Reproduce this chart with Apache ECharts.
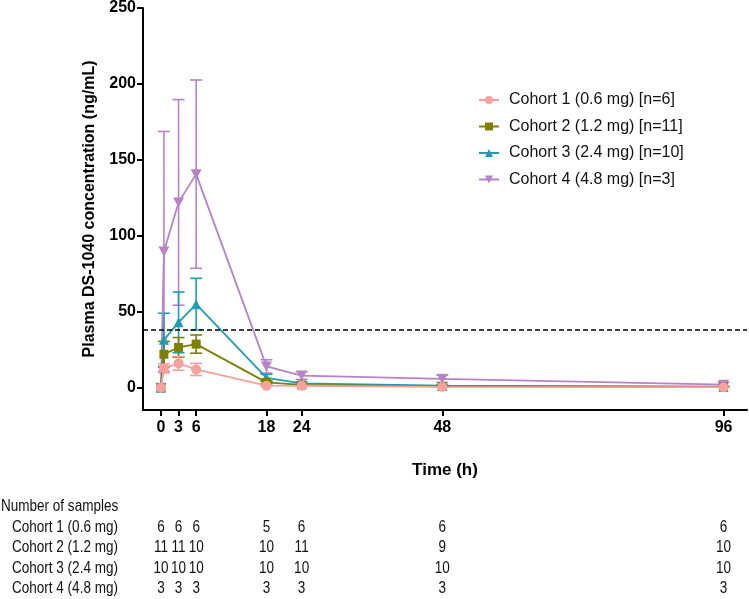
<!DOCTYPE html>
<html>
<head>
<meta charset="utf-8">
<title>Plasma DS-1040 concentration</title>
<script src="https://cdn.jsdelivr.net/npm/echarts@6/dist/echarts.min.js"></script>
<style>
html, body { margin: 0; padding: 0; background: #fff; }
#chart { width: 749px; height: 599px; }
</style>
</head>
<body>
<div id="chart"></div>
<script>
// sampling times (h)
var times = [0, 0.5, 3, 6, 18, 24, 48, 96];

var cohortNames = [
	'Cohort 1 (0.6 mg) [n=6]',
	'Cohort 2 (1.2 mg) [n=11]',
	'Cohort 3 (2.4 mg) [n=10]',
	'Cohort 4 (4.8 mg) [n=3]'
];

// mean and SD
var mean1 = [0, 12.7, 16, 12, 1.3, 1.2, 0.5, 0.3];
var sd1   = [0, 3, 4.5, 4, 0.5, 0.4, 0.2, 0.1];
var mean2 = [0, 22, 26.5, 28.7, 3.5, 1.8, 0.8, 0.5];
var sd2   = [0, 8.5, 6.5, 6, 1, 0.6, 0.3, 0.2];
var mean3 = [0, 31.5, 43, 55, 6.5, 2.8, 1.3, 0.6];
var sd3   = [0, 17.5, 20, 17, 2.3, 1, 0.5, 0.3];
var mean4 = [0, 89.7, 122, 140.6, 14, 8, 5.8, 2];
var sd4   = [0, 79, 67.7, 62, 4.4, 2.5, 2.4, 1.5];

var xTicks = [0, 3, 6, 18, 24, 48, 96];
var yTicks = [0, 50, 100, 150, 200, 250];
var refLevel = 38;

// number of samples table
var tableTitle = 'Number of samples';
var tableRows = ['Cohort 1 (0.6 mg)', 'Cohort 2 (1.2 mg)', 'Cohort 3 (2.4 mg)', 'Cohort 4 (4.8 mg)'];
var tableTimes = [0, 3, 6, 18, 24, 48, 96];
var nCohort1 = [6, 6, 6, 5, 6, 6, 6];
var nCohort2 = [11, 11, 10, 10, 11, 9, 10];
var nCohort3 = [10, 10, 10, 10, 10, 10, 10];
var nCohort4 = [3, 3, 3, 3, 3, 3, 3];

var colors = ['#F6A19D', '#7F7F00', '#1E9DB5', '#B683C8'];
var symbols = ['circle', 'rect', 'triangle', 'path://M0,0 L10,0 L5,9 Z'];
var FONT = '"Liberation Sans", Arial, Helvetica, sans-serif';
var NARROW_SCALE = 0.845; // table text is set in a condensed face

var means = [mean1, mean2, mean3, mean4];
var sds = [sd1, sd2, sd3, sd4];
var counts = [nCohort1, nCohort2, nCohort3, nCohort4];

function errorBars(color) {
	return function (params, api) {
		var x = api.value(0);
		var top = api.coord([x, api.value(2)]);
		var bot = api.coord([x, api.value(1)]);
		var hw = 6;
		var st = { stroke: color, lineWidth: 1.6 };
		return {
			type: 'group',
			children: [
				{ type: 'line', shape: { x1: top[0], y1: top[1], x2: bot[0], y2: bot[1] }, style: st },
				{ type: 'line', shape: { x1: top[0] - hw, y1: top[1], x2: top[0] + hw, y2: top[1] }, style: st },
				{ type: 'line', shape: { x1: bot[0] - hw, y1: bot[1], x2: bot[0] + hw, y2: bot[1] }, style: st }
			]
		};
	};
}

function tableText(txt, x, y, align) {
	return {
		type: 'text',
		x: x,
		y: y,
		scaleX: NARROW_SCALE,
		style: {
			text: txt,
			align: align,
			verticalAlign: 'middle',
			fontFamily: FONT,
			fontSize: 16,
			fill: '#111'
		}
	};
}

var series = [];
// draw cohort 4 first so cohort 1 ends up on top
for (var i = 3; i >= 0; i--) {
	var lineData = [];
	var errData = [];
	for (var j = 0; j < times.length; j++) {
		lineData.push([times[j], means[i][j]]);
		if (sds[i][j] > 0) {
			errData.push([times[j], means[i][j] - sds[i][j], means[i][j] + sds[i][j]]);
		}
	}
	series.push({
		name: 'err' + i,
		type: 'custom',
		xAxisIndex: 0,
		yAxisIndex: 0,
		renderItem: errorBars(colors[i]),
		encode: { x: 0, y: [1, 2] },
		data: errData,
		z: 2,
		silent: true
	});
	var s = {
		name: cohortNames[i],
		type: 'line',
		xAxisIndex: 0,
		yAxisIndex: 0,
		data: lineData,
		symbol: symbols[i],
		symbolSize: i == 3 ? [11, 10] : (i == 1 ? 9 : 10),
		showAllSymbol: true,
		lineStyle: { color: colors[i], width: 1.8 },
		itemStyle: { color: colors[i] },
		z: 3,
		animation: false
	};
	if (i == 3) {
		s.markLine = {
			silent: true,
			symbol: 'none',
			label: { show: false },
			lineStyle: { color: '#000', type: [5, 3], width: 1.5 },
			data: [{ yAxis: refLevel }]
		};
	}
	series.push(s);
}

// table of sample numbers
var tableData = [];
for (var r = 0; r < counts.length; r++) {
	for (var k = 0; k < tableTimes.length; k++) {
		tableData.push([tableTimes[k], r, counts[r][k]]);
	}
}
series.push({
	name: 'table',
	type: 'custom',
	xAxisIndex: 1,
	yAxisIndex: 1,
	silent: true,
	clip: false,
	data: tableData,
	renderItem: function (params, api) {
		var p = api.coord([api.value(0), api.value(1)]);
		return tableText(String(api.value(2)), p[0], p[1], 'center');
	}
});
// row labels of the table
var rowData = [];
for (var r2 = 0; r2 < tableRows.length; r2++) {
	rowData.push([0, r2, tableRows[r2]]);
}
series.push({
	name: 'rows',
	type: 'custom',
	xAxisIndex: 1,
	yAxisIndex: 1,
	silent: true,
	clip: false,
	data: rowData,
	renderItem: function (params, api) {
		var p = api.coord([0, api.value(1)]);
		return tableText(tableRows[params.dataIndex], 12, p[1], 'left');
	}
});

var myChart = echarts.init(document.getElementById('chart'));
var option = {
	backgroundColor: '#fff',
	animation: false,
	graphic: [tableText(tableTitle, 1, 506.5, 'left')],
	legend: {
		data: cohortNames,
		orient: 'vertical',
		left: 473,
		top: 87,
		itemWidth: 20,
		itemHeight: 10,
		itemGap: 10.5,
		textStyle: { fontFamily: FONT, fontSize: 16, color: '#111', padding: [0, 0, 0, 5] }
	},
	grid: [
		{ left: 143, right: 2, top: 7.7, bottom: 189, containLabel: false },
		{ left: 143, right: 2, top: 517, height: 84, containLabel: false }
	],
	xAxis: [{
		type: 'value',
		gridIndex: 0,
		min: -3.07,
		max: 100,
		name: 'Time (h)',
		nameLocation: 'middle',
		nameGap: 52,
		nameTextStyle: { fontFamily: FONT, fontSize: 17, fontWeight: 'bold', color: '#000' },
		axisLine: { show: true, onZero: false, lineStyle: { color: '#000', width: 2 } },
		axisTick: { show: true, length: 6, lineStyle: { color: '#000', width: 2 }, customValues: xTicks },
		axisLabel: { fontFamily: FONT, fontSize: 16, fontWeight: 'bold', color: '#000', margin: 10, customValues: xTicks },
		splitLine: { show: false }
	}, {
		type: 'value',
		gridIndex: 1,
		min: -3.07,
		max: 100,
		show: false
	}],
	yAxis: [{
		type: 'value',
		gridIndex: 0,
		min: -14.7,
		max: 250,
		name: 'Plasma DS-1040 concentration (ng/mL)',
		nameLocation: 'middle',
		nameGap: 45,
		nameTextStyle: { fontFamily: FONT, fontSize: 16, fontWeight: 'bold', color: '#000' },
		axisLine: { show: true, onZero: false, lineStyle: { color: '#000', width: 2 } },
		axisTick: { show: true, length: 6, lineStyle: { color: '#000', width: 2 }, customValues: yTicks },
		axisLabel: { fontFamily: FONT, fontSize: 16, fontWeight: 'bold', color: '#000', margin: 7, customValues: yTicks },
		splitLine: { show: false }
	}, {
		type: 'category',
		gridIndex: 1,
		inverse: true,
		data: tableRows,
		show: false
	}],
	series: series
};

if (option && typeof option === "object") {
	myChart.setOption(option, true);
}
</script>
</body>
</html>
